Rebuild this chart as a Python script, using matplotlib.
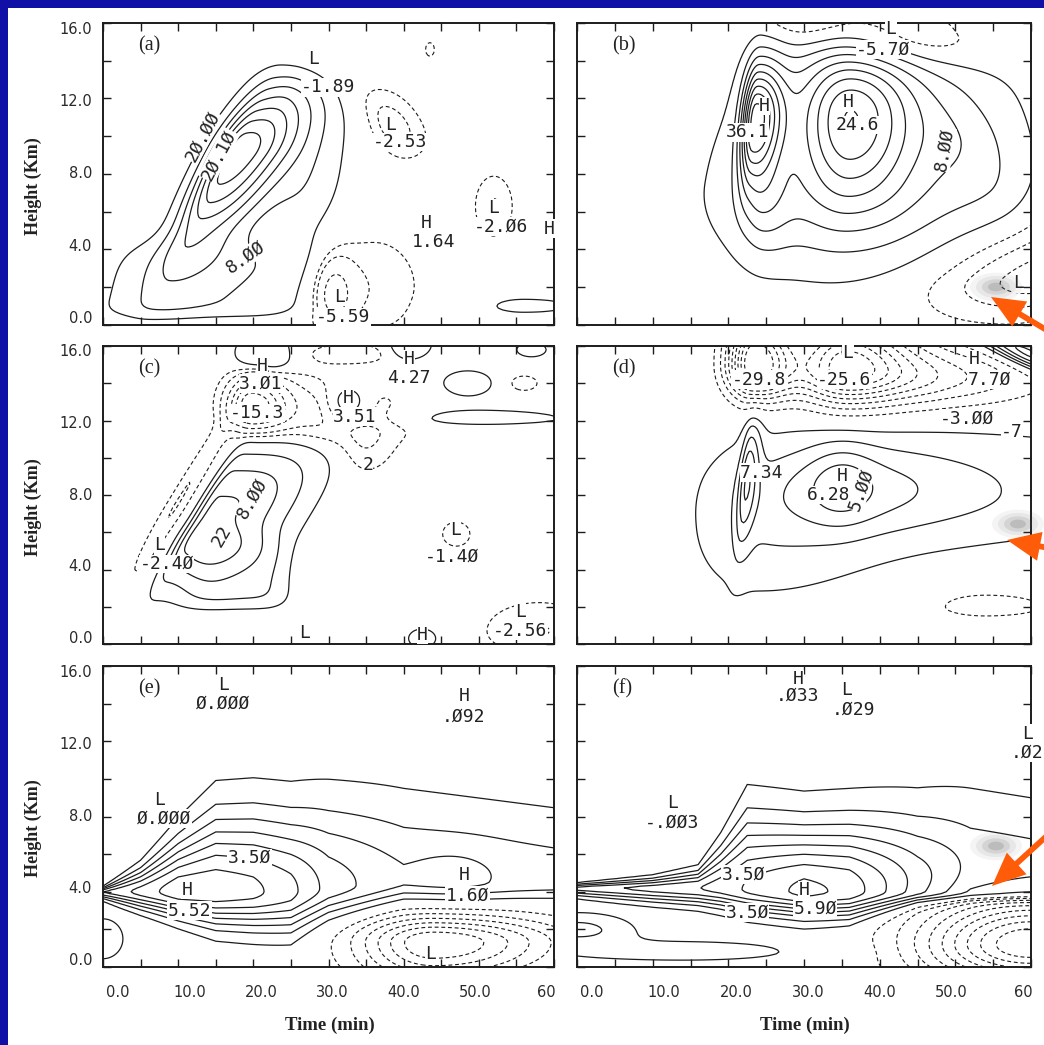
import numpy as np
import matplotlib
matplotlib.use("Agg")
import matplotlib.pyplot as plt
from matplotlib.patches import Rectangle, FancyArrow, Ellipse

# ---------------- data ----------------
TIME = np.linspace(0, 60, 241)      # min
HEIGHT = np.linspace(0, 16, 161)    # km

# cells: (time, height, peak value, width left, width right, depth below, depth above,
#         tilt min/km[, flatness])
panel_a_cells = [
    (17.5, 9.0, 22.0, 2.4, 5.0, 3.5, 2.2, 1.3),
    (13.5, 1.6, 4.5, 11.0, 11.0, 1.0, 2.5, 0.6, 4),
    (25.0, 12.0, 4.0, 3.0, 4.5, 2.0, 1.2, 0.8),
    (27.0, 7.0, 3.5, 3.0, 3.5, 2.5, 2.5, 0.6),
    (29.0, 13.4, -1.9, 4.0, 3.0, 1.2, 1.8, -2.0),
    (38.5, 10.5, -2.6, 2.5, 3.0, 1.2, 1.5, -1.0),
    (30.5, 1.6, -4.5, 1.8, 2.0, 1.2, 1.5, 0.0),
    (36.0, 2.0, -1.8, 5.0, 5.0, 2.0, 2.2, 0.0),
    (52.0, 6.3, -2.1, 2.0, 2.0, 1.3, 1.3, 0.0),
    (56.0, 1.0, 2.6, 5.0, 8.0, 0.45, 0.5, 0.0),
    (43.5, 14.6, -1.3, 0.8, 0.8, 0.5, 0.5, 0.0),
    (24.5, 16.3, 2.5, 1.5, 1.5, 0.5, 0.5, 0.0),
]
panel_b_cells = [
    (23.5, 11.0, 24.0, 1.2, 2.5, 2.2, 2.0, 0.2),
    (36.0, 11.3, 16.0, 4.5, 5.5, 3.0, 2.3, 0.0),
    (36.0, 7.5, 9.0, 11.0, 13.0, 3.0, 5.5, 0.4),
    (24.5, 6.5, 5.0, 2.0, 2.5, 1.8, 2.0, 0.0),
    (52.0, 9.5, 3.0, 5.0, 4.0, 3.0, 2.2, -1.0),
    (43.0, 15.3, -6.0, 10.0, 7.0, 1.1, 2.0, -2.0),
    (30.0, 16.5, -3.0, 4.0, 4.0, 1.0, 1.0, 0.0),
    (61.0, 2.5, -6.5, 9.0, 5.0, 1.3, 2.5, 1.8),
]
panel_c_cells = [
    (14.0, 6.8, 12.5, 1.5, 7.8, 2.6, 2.6, 1.5, 3),
    (18.0, 3.5, 5.0, 6.0, 5.0, 1.2, 2.0, 0.0, 4),
    (9.8, 7.5, -2.6, 1.0, 1.0, 2.6, 4.5, 1.5),
    (20.0, 12.8, -16.0, 2.2, 3.0, 0.8, 1.0, 0.0),
    (30.0, 12.2, -3.5, 6.0, 7.0, 1.0, 1.3, -1.0),
    (35.0, 10.5, -1.8, 2.0, 2.5, 1.0, 1.0, 0.0),
    (21.5, 15.4, 4.5, 2.5, 2.5, 0.6, 0.8, 0.0),
    (32.5, 12.9, 4.5, 2.0, 2.0, 0.7, 0.7, 0.0),
    (47.0, 12.1, 1.6, 10.0, 14.0, 0.35, 0.5, 0.0),
    (40.5, 16.0, 4.3, 1.6, 2.0, 0.5, 0.5, 0.0),
    (48.5, 14.0, 3.0, 2.2, 2.2, 0.45, 0.45, 0.0),
    (56.0, 14.0, -1.6, 1.8, 1.8, 0.4, 0.4, 0.0),
    (57.0, 15.8, 1.8, 1.8, 1.8, 0.35, 0.35, 0.0),
    (47.0, 5.9, -1.45, 2.1, 2.1, 0.75, 0.75, 0.0),
    (58.0, 0.7, -2.6, 5.0, 5.0, 0.9, 1.1, 0.0),
    (42.5, 0.3, 1.7, 1.8, 1.8, 0.5, 0.5, 0.0),
    (33.0, 15.6, -1.5, 6.0, 6.0, 0.5, 0.5, 0.0),
]
panel_d_cells = [
    (25.0, 6.2, 2.6, 6.0, 10.0, 2.4, 3.0, 0.3),
    (44.0, 8.0, 2.2, 12.0, 30.0, 1.8, 2.6, 0.0),
    (36.0, 8.5, 3.2, 9.0, 13.0, 1.8, 1.5, 0.0),
    (35.0, 8.7, 2.8, 3.0, 3.0, 1.5, 1.5, 0.0),
    (22.5, 9.0, 6.5, 0.7, 1.0, 2.5, 2.2, 0.25),
    (23.5, 15.0, -31.0, 2.5, 3.5, 1.2, 2.0, 0.0),
    (35.5, 14.8, -26.0, 4.5, 6.0, 1.3, 2.0, 0.0),
    (48.0, 14.3, -9.0, 6.0, 10.0, 1.1, 1.2, 0.0),
    (60.0, 15.5, 12.0, 3.0, 3.0, 0.9, 1.2, -4.0),
    (54.0, 2.0, -4.5, 6.0, 8.0, 0.55, 0.7, 0.0),
]
# layered fields (e), (f): profile per time
panel_e_times = [0, 5, 10, 15, 20, 25, 30, 40, 50, 60]
panel_e_peak_height = [4.0, 4.0, 4.0, 4.0, 4.0, 4.0, 4.2, 4.5, 4.5, 4.5]
panel_e_peak_value = [3.5, 4.5, 5.5, 5.5, 5.2, 4.5, 3.2, 2.0, 1.8, 1.6]
panel_e_depth_below = [0.25, 0.6, 0.9, 1.2, 1.3, 1.4, 1.0, 0.6, 0.6, 0.6]
panel_e_depth_above = [0.15, 0.8, 1.8, 2.7, 2.8, 2.8, 3.0, 3.0, 2.8, 2.6]
panel_e_cells = [
    (44.0, 1.3, -3.5, 7.0, 12.0, 1.5, 1.0, 0.0),
    (0.0, 1.5, 1.2, 1.0, 2.0, 0.8, 0.8, 0.0),
    (47.0, 5.0, 0.5, 4.0, 4.0, 1.0, 1.0, 0.0),
]
panel_f_times = [0, 10, 16, 19, 22.5, 30, 36, 45, 52, 60]
panel_f_peak_height = [4.2, 4.2, 4.2, 4.2, 4.1, 4.0, 4.0, 4.0, 4.0, 4.0]
panel_f_peak_value = [3.0, 3.8, 4.2, 4.6, 5.1, 6.0, 5.6, 3.5, 2.2, 2.0]
panel_f_depth_below = [0.3, 0.5, 0.6, 0.7, 0.8, 0.9, 0.9, 0.4, 0.3, 0.3]
panel_f_depth_above = [0.15, 0.35, 0.6, 1.4, 2.6, 2.4, 2.5, 2.8, 3.2, 3.0]
panel_f_cells = [
    (60.0, 1.2, -5.0, 10.0, 10.0, 1.5, 1.8, 0.0),
    (0.0, 2.0, 1.5, 3.0, 5.0, 0.5, 0.6, 0.0),
    (14.0, 0.8, 0.9, 14.0, 12.0, 0.4, 0.5, 0.0),
]

levels_pos = {
    "a": [2, 5, 8, 11, 14, 17, 20, 23, 26],
    "b": [2, 5, 8, 11, 14, 17, 20, 23, 26],
    "c": [1, 4, 8, 12],
    "d": [1, 3, 5, 7, 9],
    "e": [0.5, 1.25, 2.0, 2.75, 3.5, 4.25, 5.0],
    "f": [0.5, 1.25, 2.0, 2.75, 3.5, 4.25, 5.0, 5.75],
}
levels_neg = {
    "a": [-4, -2, -1],
    "b": [-5, -3, -1],
    "c": [-14, -11, -8, -5, -2.5, -1],
    "d": [-27, -24, -21, -18, -15, -12, -9, -6, -3],
    "e": [-3.0, -2.5, -2.0, -1.5, -1.0, -0.5],
    "f": [-4.5, -4.0, -3.5, -3.0, -2.5, -2.0, -1.5, -1.0, -0.5],
}

# extreme / contour labels: (time, height, text, rotation)
panel_a_labels = [(28.0, 14.1, "L", 0), (30.0, 12.6, "-1.89", 0), (38.3, 10.6, "L", 0),
                  (39.5, 9.7, "-2.53", 0), (43.0, 5.4, "H", 0), (44.0, 4.4, "1.64", 0),
                  (52.0, 6.2, "L", 0), (53.0, 5.2, "-2.Ø6", 0), (59.3, 5.1, "H", 0),
                  (31.5, 1.5, "L", 0), (32.0, 0.4, "-5.59", 0), (19.0, 3.6, "8.ØØ", 35),
                  (13.2, 10.0, "2Ø.ØØ", 62), (15.4, 9.0, "2Ø.1Ø", 62)]
panel_b_labels = [(24.8, 11.6, "H", 0), (35.8, 11.8, "H", 0), (37.0, 10.6, "24.6", 0),
                  (48.5, 9.3, "8.ØØ", 80), (40.5, 14.6, "-5.7Ø", 0), (41.5, 15.7, "L", 0),
                  (58.3, 2.2, "L", 0), (22.5, 10.2, "36.1", 0)]
panel_c_labels = [(21.2, 14.9, "H", 0), (21.0, 14.0, "3.Ø1", 0), (20.5, 12.4, "-15.3", 0),
                  (40.7, 15.3, "H", 0), (40.7, 14.3, "4.27", 0), (32.6, 13.2, "H", 0),
                  (33.5, 12.2, "3.51", 0), (8.5, 4.3, "-2.4Ø", 0), (7.5, 5.3, "L", 0),
                  (19.8, 7.8, "8.ØØ", 60), (15.8, 5.8, "22", 60), (46.5, 4.7, "-1.4Ø", 0),
                  (46.9, 6.1, "L", 0), (55.5, 0.7, "-2.56", 0), (55.5, 1.7, "L", 0),
                  (42.5, 0.5, "H", 0), (26.8, 0.6, "L", 0), (35.2, 9.6, "2", 0)]
panel_d_labels = [(24.0, 14.2, "-29.8", 0), (35.3, 14.2, "-25.6", 0), (35.8, 15.6, "L", 0),
                  (54.5, 14.2, "7.7Ø", 0), (52.5, 15.3, "H", 0), (51.5, 12.1, "-3.ØØ", 0),
                  (57.5, 11.4, "-7", 0), (35.0, 9.0, "H", 0), (33.2, 8.0, "6.28", 0),
                  (37.5, 8.3, "5.ØØ", 70), (24.4, 9.2, "7.34", 0)]
panel_e_labels = [(16.0, 15.0, "L", 0), (16.0, 14.0, "Ø.ØØØ", 0), (48.0, 14.4, "H", 0),
                  (48.0, 13.3, ".Ø92", 0), (7.5, 8.9, "L", 0), (8.2, 7.9, "Ø.ØØØ", 0),
                  (19.5, 5.8, "3.5Ø", 0), (11.2, 4.1, "H", 0), (11.5, 3.0, "5.52", 0),
                  (48.0, 4.9, "H", 0), (48.5, 3.8, "1.6Ø", 0), (43.6, 0.7, "L", 0)]
panel_f_labels = [(29.2, 15.3, "H", 0), (29.2, 14.4, ".Ø33", 0), (35.6, 14.7, "L", 0),
                  (36.5, 13.7, ".Ø29", 0), (12.6, 8.7, "L", 0), (12.6, 7.7, "-.ØØ3", 0),
                  (59.5, 12.4, "L", 0), (59.5, 11.4, ".Ø2", 0), (22.0, 4.9, "3.5Ø", 0),
                  (30.0, 4.1, "H", 0), (22.5, 2.9, "3.5Ø", 0), (31.5, 3.1, "5.9Ø", 0)]

x_tick_text = ["0.0", "10.0", "20.0", "30.0", "40.0", "50.0", "60"]
y_tick_text = ["0.0", "4.0", "8.0", "12.0", "16.0"]
panel_names = ["(a)", "(b)", "(c)", "(d)", "(e)", "(f)"]

# ---------------- helpers ----------------
T, Z = np.meshgrid(TIME, HEIGHT)


def cells_field(cells):
    F = np.zeros_like(T)
    for cell in cells:
        t0, z0, amp, sl, sr, sd, su, tilt = cell[:8]
        p = cell[8] if len(cell) > 8 else 2
        dz = Z - z0
        dx = T - t0 - tilt * dz
        sx = np.where(dx < 0, sl, sr)
        sz = np.where(dz < 0, sd, su)
        F += amp * np.exp(-0.5 * (np.abs(dx / sx) ** p + np.abs(dz / sz) ** p))
    return F


def layer_field(times, zp, peak, sd, su):
    zpi = np.interp(T, times, zp)
    pki = np.interp(T, times, peak)
    sdi = np.interp(T, times, sd)
    sui = np.interp(T, times, su)
    dz = Z - zpi
    s = np.where(dz < 0, sdi, sui)
    return pki * np.exp(-0.5 * (dz / s) ** 2)


fields = {
    "a": cells_field(panel_a_cells),
    "b": cells_field(panel_b_cells),
    "c": cells_field(panel_c_cells),
    "d": cells_field(panel_d_cells),
    "e": layer_field(panel_e_times, panel_e_peak_height, panel_e_peak_value,
                     panel_e_depth_below, panel_e_depth_above) + cells_field(panel_e_cells),
    "f": layer_field(panel_f_times, panel_f_peak_height, panel_f_peak_value,
                     panel_f_depth_below, panel_f_depth_above) + cells_field(panel_f_cells),
}
labels = {"a": panel_a_labels, "b": panel_b_labels, "c": panel_c_labels,
          "d": panel_d_labels, "e": panel_e_labels, "f": panel_f_labels}

# ---------------- figure ----------------
W, H = 1044, 1045
fig = plt.figure(figsize=(W / 100, H / 100), dpi=100)
fig.patch.set_facecolor("white")
BLUE = "#1010a6"
fig.add_artist(Rectangle((0, 1 - 8 / H), 1, 8 / H, transform=fig.transFigure,
                         facecolor=BLUE, edgecolor="none", zorder=0))
fig.add_artist(Rectangle((0, 0), 8 / W, 1, transform=fig.transFigure,
                         facecolor=BLUE, edgecolor="none", zorder=0))

col_x = [(103, 554), (577, 1031)]
row_y = [(23, 325), (346, 644), (666, 967)]
keys = [["a", "b"], ["c", "d"], ["e", "f"]]
INK = "#1c1c1c"
MONO = "DejaVu Sans Mono"

for r in range(3):
    for c in range(2):
        k = keys[r][c]
        x0, x1 = col_x[c]
        y0, y1 = row_y[r]
        ax = fig.add_axes([x0 / W, 1 - y1 / H, (x1 - x0) / W, (y1 - y0) / H])
        ax.set_xlim(0, 60)
        ax.set_ylim(0, 16)
        F = fields[k]
        ax.contour(TIME, HEIGHT, F, levels=levels_pos[k], colors=INK,
                   linewidths=0.9, linestyles="solid")
        ax.contour(TIME, HEIGHT, F, levels=levels_neg[k], colors=INK,
                   linewidths=0.8, linestyles=[(0, (3.5, 2.5))])
        for (tx, ty, s, rot) in labels[k]:
            ax.text(tx, ty, s, fontsize=13, family=MONO, color="#222222",
                    ha="center", va="center", rotation=rot,
                    bbox=dict(facecolor="white", edgecolor="none", pad=0.3))
        ax.text(0.078, 0.955, panel_names[r * 2 + c], transform=ax.transAxes,
                fontsize=14.5, family="Liberation Serif", color="#222222",
                ha="left", va="top")
        ax.set_xticks(np.arange(0, 61, 5))
        ax.set_yticks(np.arange(0, 17, 2))
        ax.set_xticklabels([])
        ax.set_yticklabels([])
        ax.tick_params(direction="in", top=True, right=True, length=6, width=1.0,
                       color=INK)
        for sp in ax.spines.values():
            sp.set_linewidth(1.4)
            sp.set_color(INK)
        if c == 0:
            for i, s in enumerate(y_tick_text):
                yv = 8 + (4 * i - 8) * 0.96
                ax.text(-0.024, yv / 16, s, transform=ax.transAxes, ha="right",
                        va="center", fontsize=10.5, color="#2a2a2a",
                        family="DejaVu Sans")
            ax.text(-0.155, 0.46, "Height (Km)", transform=ax.transAxes, rotation=90,
                    ha="center", va="center", fontsize=13, fontweight="bold",
                    family="Liberation Serif", color="#222222")
        if r == 2:
            for i, s in enumerate(x_tick_text):
                xv = 2.0 + 10 * i * 0.95
                ax.text(xv / 60, -0.086, s, transform=ax.transAxes, ha="center",
                        va="center", fontsize=10.5, color="#2a2a2a",
                        family="DejaVu Sans")
            ax.text(0.503, -0.193, "Time (min)", transform=ax.transAxes,
                    ha="center", va="center", fontsize=13.5, fontweight="bold",
                    family="Liberation Serif", color="#222222")

# ---------------- arrows with soft shadows ----------------
def fx(px):
    return px / W


def fy(py):
    return 1 - py / H


for (sx, sy) in [(996, 287), (1018, 524), (996, 846)]:
    for rr, a in [(26, 0.06), (20, 0.08), (14, 0.12), (8, 0.18)]:
        fig.add_artist(Ellipse((fx(sx), fy(sy)), 2 * rr / W, 1.1 * rr / H,
                               transform=fig.transFigure, facecolor="#505050",
                               edgecolor="none", alpha=a, zorder=5))

ORANGE = "#ff5c0a"
for (tx0, ty0, tx1, ty1) in [(1060, 338, 991, 297), (1090, 556, 1007, 540),
                             (1062, 822, 992, 886)]:
    fig.add_artist(FancyArrow(fx(tx0), fy(ty0), fx(tx1) - fx(tx0), fy(ty1) - fy(ty0),
                              width=0.0055, head_width=0.028, head_length=0.032,
                              length_includes_head=True, transform=fig.transFigure,
                              facecolor=ORANGE, edgecolor="none", zorder=6))

fig.savefig("out.png", dpi=100, facecolor=fig.get_facecolor())
